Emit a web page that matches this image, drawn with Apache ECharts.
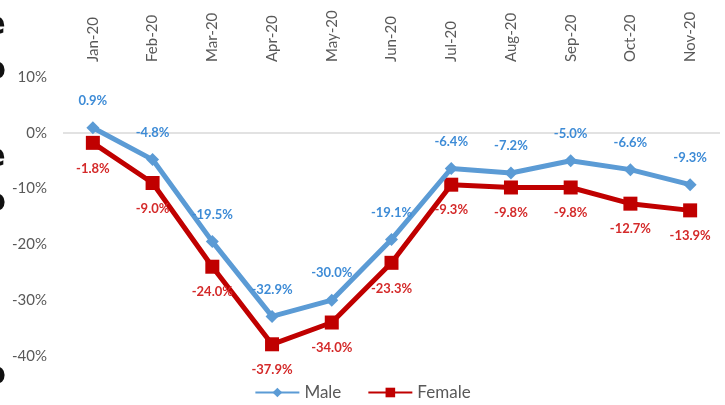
<!DOCTYPE html>
<html>
<head>
<meta charset="utf-8">
<script src="https://cdn.jsdelivr.net/npm/echarts@6/dist/echarts.min.js"></script>
<style>
  html, body { margin: 0; padding: 0; background: #fff; }
  #chart { width: 725px; height: 405px; }
</style>
</head>
<body>
<div id="chart"></div>
<script>
const months = ["Jan-20", "Feb-20", "Mar-20", "Apr-20", "May-20", "Jun-20",
  "Jul-20", "Aug-20", "Sep-20", "Oct-20", "Nov-20"];
const male = [0.9, -4.8, -19.5, -32.9, -30.0, -19.1, -6.4, -7.2, -5.0, -6.6, -9.3];
const female = [-1.8, -9.0, -24.0, -37.9, -34.0, -23.3, -9.3, -9.8, -9.8, -12.7, -13.9];

// cropped text fragments at the left edge
const edgeBits = [["e", 28], ["o", 73], ["r", 116], ["e", 160], ["o", 205], ["-", 245], ["r", 290], ["-", 335], ["o", 378]];

const FONT = "Lato, 'Open Sans', sans-serif";
const chart = echarts.init(document.getElementById("chart"));

chart.setOption({
  animation: false,
  grid: { left: 63, right: 5, top: 77, bottom: 49 },
  legend: {
    bottom: -1,
    left: "center",
    itemWidth: 44,
    itemHeight: 12,
    itemGap: 26,
    textStyle: { color: "#595959", fontSize: 17, fontFamily: FONT },
    data: ["Male", "Female"],
  },
  graphic: edgeBits.map(([t, y]) => ({
    type: "text",
    left: -16,
    top: y - 18,
    style: { text: t, fill: "#111", font: "bold 32px 'DejaVu Sans'" },
  })),
  xAxis: {
    type: "category",
    position: "top",
    data: months,
    boundaryGap: true,
    axisLine: { show: false },
    axisTick: { show: false },
    axisLabel: {
      rotate: 90,
      margin: 15,
      color: "#595959",
      fontSize: 15,
      fontFamily: FONT,
    },
  },
  yAxis: {
    type: "value",
    min: -40,
    max: 10,
    interval: 10,
    axisLine: { show: false },
    axisTick: { show: false },
    splitLine: { show: false },
    axisLabel: {
      formatter: "{value}%",
      color: "#595959",
      fontSize: 15,
      fontFamily: FONT,
      margin: 16,
    },
  },
  series: [
    {
      name: "Male",
      type: "line",
      data: male,
      symbol: "diamond",
      symbolSize: 13,
      z: 3,
      lineStyle: { color: "#5B9BD5", width: 5 },
      itemStyle: { color: "#5B9BD5" },
      label: {
        show: true,
        position: "top",
        distance: 14,
        formatter: (p) => p.value.toFixed(1) + "%",
        color: "#3D8BD6",
        fontWeight: "bold",
        fontSize: 13,
        fontFamily: FONT,
      },
      markLine: {
        silent: true,
        symbol: "none",
        label: { show: false },
        lineStyle: { color: "#d9d9d9", width: 1.5, type: "solid" },
        data: [{ yAxis: 0 }],
        z: 1,
      },
    },
    {
      name: "Female",
      type: "line",
      data: female,
      symbol: "rect",
      symbolSize: 14,
      z: 2,
      lineStyle: { color: "#C00000", width: 5 },
      itemStyle: { color: "#C00000" },
      label: {
        show: true,
        position: "bottom",
        distance: 12,
        formatter: (p) => p.value.toFixed(1) + "%",
        color: "#D42A2A",
        fontWeight: "bold",
        fontSize: 13,
        fontFamily: FONT,
      },
    },
  ],
});
</script>
</body>
</html>
